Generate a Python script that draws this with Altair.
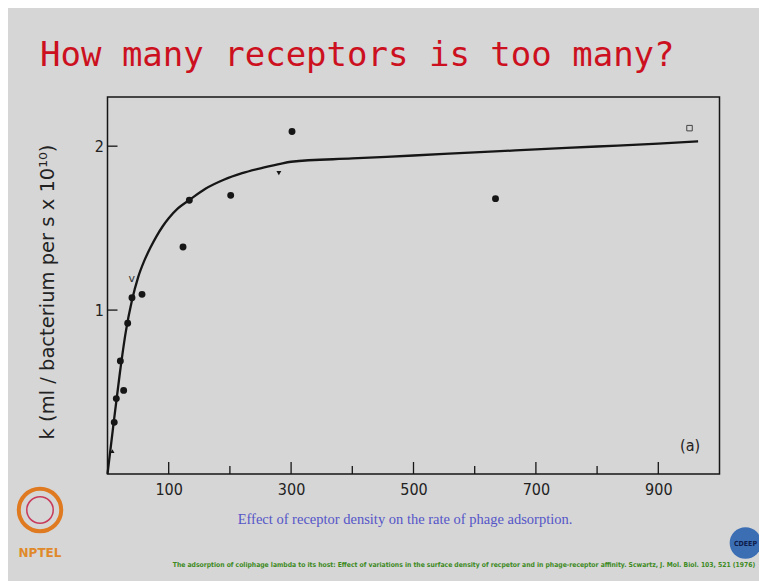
import altair as alt
import pandas as pd

# ---- values ----
curve_x = [0, 10, 20, 30, 40, 50, 60, 70, 80, 90, 100, 115, 135, 160, 190, 220, 250, 280, 300,
           400, 500, 600, 700, 800, 900, 965]
curve_y = [0, 0.31, 0.61, 0.87, 1.06, 1.20, 1.30, 1.38, 1.45, 1.51, 1.56, 1.62, 1.675, 1.74,
           1.795, 1.835, 1.865, 1.89, 1.905, 1.925, 1.943, 1.962, 1.98, 1.998, 2.016, 2.03]

dot_x = [11, 14.4, 21, 26.4, 33, 40, 56.4, 123.4, 133.7, 201.3, 301.5, 634]
dot_y = [0.315, 0.46, 0.69, 0.51, 0.92, 1.075, 1.096, 1.385, 1.67, 1.70, 2.09, 1.68]

tri_up_x = [8]
tri_up_y = [0.14]
tri_down_x = [280]
tri_down_y = [1.835]
vee_x = [39.5]
vee_y = [1.19]
square_x = [951]
square_y = [2.11]

x_major = [100, 300, 500, 700, 900]
x_minor = [200, 400, 600, 800]
y_ticks = [1, 2]

panel_label = ["(a)"]
panel_label_x = [952]
panel_label_y = [0.17]

title_text = "How many receptors is too many?"
y_title_text = "k (ml / bacterium per s x 10\u00b9\u2070)"
caption_text = "Effect of receptor density on the rate of phage adsorption."
footer_text = ("The adsorption of coliphage lambda to its host: Effect of variations in the surface "
               "density of recpetor and in phage-receptor affinity. Scwartz, J. Mol. Biol. 103, 521 (1976)")

W, H = 612, 377
INK = "#161616"

xs = alt.Scale(domain=[0, 1000], nice=False, zero=True)
ys = alt.Scale(domain=[0, 2.3], nice=False, zero=True)

x_axis = alt.Axis(values=x_major, ticks=False, domain=False, grid=False, labelPadding=7,
                  labelFont="DejaVu Sans Condensed", labelFontSize=16, labelColor="#222",
                  format="d", title=None)
y_axis = alt.Axis(values=y_ticks, ticks=False, domain=False, grid=False, labelPadding=4,
                  labelFont="DejaVu Sans Condensed", labelFontSize=16, labelColor="#222",
                  format="d", title=None)

curve_df = pd.DataFrame({"x": curve_x, "y": curve_y})
curve = alt.Chart(curve_df).mark_line(color=INK, strokeWidth=2.3, interpolate="monotone").encode(
    x=alt.X("x:Q", scale=xs, axis=x_axis),
    y=alt.Y("y:Q", scale=ys, axis=y_axis),
)

dots = alt.Chart(pd.DataFrame({"x": dot_x, "y": dot_y})).mark_point(
    shape="circle", filled=True, color=INK, size=48, opacity=1).encode(
    x=alt.X("x:Q", scale=xs), y=alt.Y("y:Q", scale=ys))

tri_up = alt.Chart(pd.DataFrame({"x": tri_up_x, "y": tri_up_y})).mark_point(
    shape="triangle-up", filled=True, color=INK, size=18, opacity=1).encode(
    x=alt.X("x:Q", scale=xs), y=alt.Y("y:Q", scale=ys))

tri_down = alt.Chart(pd.DataFrame({"x": tri_down_x, "y": tri_down_y})).mark_point(
    shape="triangle-down", filled=True, color=INK, size=24, opacity=1).encode(
    x=alt.X("x:Q", scale=xs), y=alt.Y("y:Q", scale=ys))

vee = alt.Chart(pd.DataFrame({"x": vee_x, "y": vee_y, "t": ["v"]})).mark_text(
    font="DejaVu Sans", fontSize=11, color="#333").encode(
    x=alt.X("x:Q", scale=xs), y=alt.Y("y:Q", scale=ys), text="t:N")

square = alt.Chart(pd.DataFrame({"x": square_x, "y": square_y})).mark_point(
    shape="square", filled=False, color="#444", size=30, strokeWidth=1, opacity=1).encode(
    x=alt.X("x:Q", scale=xs), y=alt.Y("y:Q", scale=ys))

xt_major = alt.Chart(pd.DataFrame({"x": x_major})).mark_rule(color=INK, strokeWidth=1.3).encode(
    x=alt.X("x:Q", scale=xs), y=alt.value(H), y2=alt.value(H - 12))
xt_minor = alt.Chart(pd.DataFrame({"x": x_minor})).mark_rule(color=INK, strokeWidth=1.3).encode(
    x=alt.X("x:Q", scale=xs), y=alt.value(H), y2=alt.value(H - 8))
yt = alt.Chart(pd.DataFrame({"y": y_ticks})).mark_rule(color=INK, strokeWidth=1.3).encode(
    y=alt.Y("y:Q", scale=ys), x=alt.value(0), x2=alt.value(10))

plabel = alt.Chart(pd.DataFrame({"x": panel_label_x, "y": panel_label_y, "t": panel_label})).mark_text(
    font="DejaVu Sans Condensed", fontSize=16, color="#222").encode(
    x=alt.X("x:Q", scale=xs), y=alt.Y("y:Q", scale=ys), text="t:N")


def txt(s, x, y, **kw):
    return alt.Chart(pd.DataFrame({"t": [s]})).mark_text(**kw).encode(
        x=alt.value(x), y=alt.value(y), text="t:N")


title = txt(title_text, -67.5, -31, font="DejaVu Sans Mono", fontSize=34, color="#cc1020",
            align="left", baseline="alphabetic")
ytitle = txt(y_title_text, -60, 195, font="DejaVu Sans", fontSize=19.5, color="#222",
             angle=270, align="center", baseline="middle")
caption = txt(caption_text, 297.5, 427, font="Liberation Serif", fontSize=14.5, color="#5555c8",
              align="center", baseline="alphabetic")
footer = txt(footer_text, 356.5, 470, font="DejaVu Sans Condensed",
             fontSize=6.75, fontWeight="bold", color="#3d8a1e", align="center", baseline="alphabetic")

nptel_ring = alt.Chart(pd.DataFrame({"t": [1]})).mark_point(
    shape="circle", filled=False, color="#e07a20", strokeWidth=4, size=1800, opacity=1).encode(
    x=alt.value(-67.5), y=alt.value(413))
nptel_inner = alt.Chart(pd.DataFrame({"t": [1]})).mark_point(
    shape="circle", filled=False, color="#c83a5a", strokeWidth=1.5, size=700, opacity=1).encode(
    x=alt.value(-67.5), y=alt.value(413))
nptel_text = txt("NPTEL", -67.5, 460, font="DejaVu Sans", fontSize=12, fontWeight="bold",
                 color="#e0892a", align="center", baseline="alphabetic")
cdeep_ball = alt.Chart(pd.DataFrame({"t": [1]})).mark_point(
    shape="circle", filled=True, color="#3c6eb4", size=1000, opacity=1).encode(
    x=alt.value(638), y=alt.value(446))
cdeep_text = txt("CDEEP", 638, 449, font="DejaVu Sans Condensed", fontSize=7, fontWeight="bold",
                 color="#0d1c4a", align="center", baseline="alphabetic")

chart = alt.layer(
    curve, xt_major, xt_minor, yt, dots, tri_up, tri_down, vee, square, plabel,
    title, ytitle, caption, footer, nptel_ring, nptel_inner, nptel_text, cdeep_ball, cdeep_text,
).properties(
    width=W, height=H,
    autosize=alt.AutoSizeParams(type="none"),
    padding={"left": 99.5, "top": 89, "right": 39.5, "bottom": 107},
    background="#d6d6d6",
).configure_view(stroke=INK, strokeWidth=1.5)

chart.save("out.html", embed_options={"renderer": "svg", "actions": False})
